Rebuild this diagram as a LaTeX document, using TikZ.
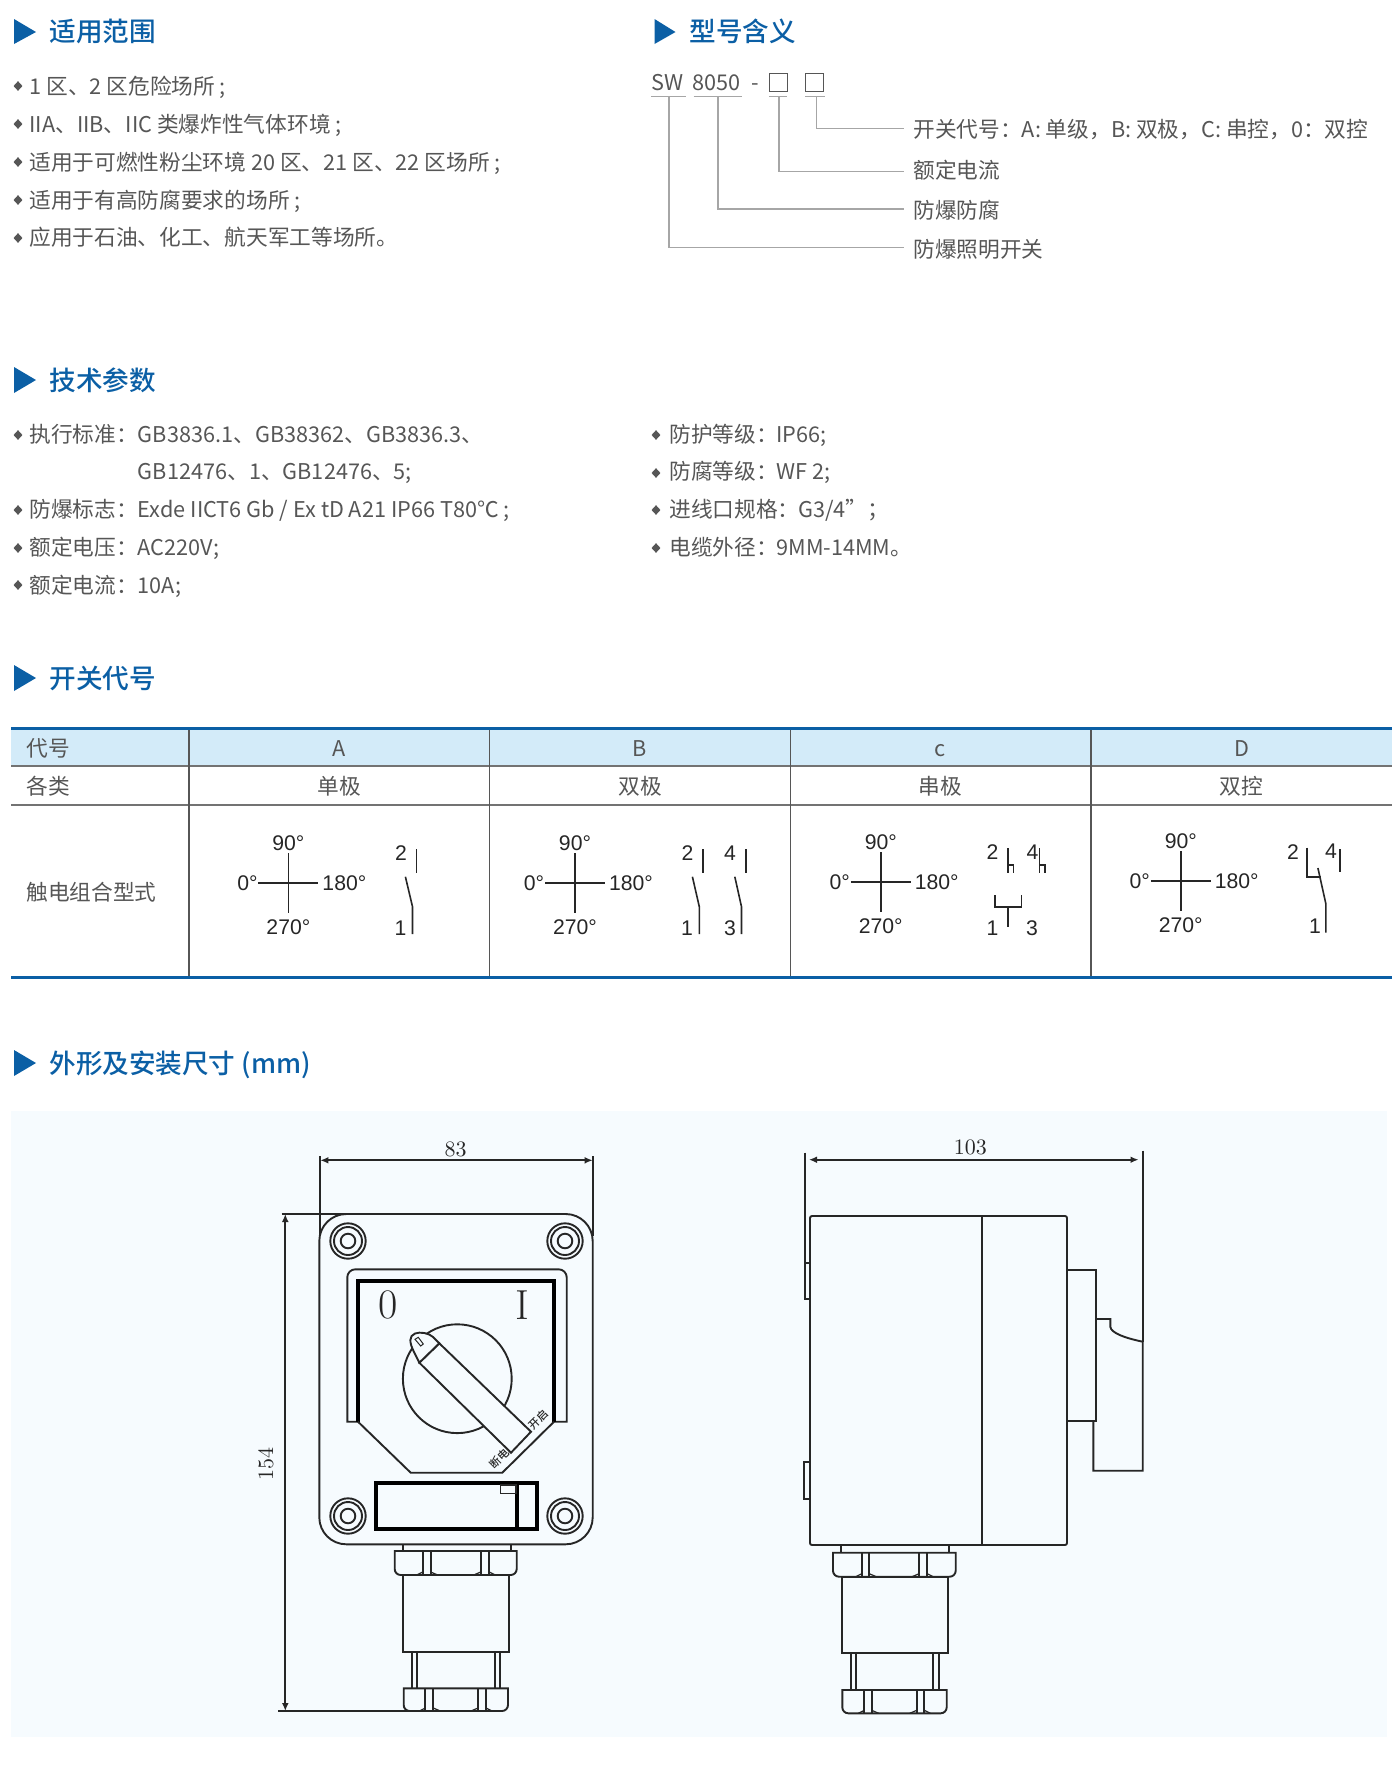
\documentclass[tikz,border=0pt]{standalone}
\usepackage{fontspec}
\usepackage{tikz}
\setmainfont{Noto Sans CJK SC}[BoldFont={Noto Sans CJK SC Medium}]
\newfontfamily\contactfont{Liberation Sans}
\newfontfamily\sizefont{Latin Modern Roman}
\usetikzlibrary{arrows.meta}
\usetikzlibrary{positioning}
\usetikzlibrary{shapes.geometric}
\definecolor{headblue}{HTML}{0B5FA5}
\definecolor{bodygray}{HTML}{565656}
\definecolor{bandblue}{HTML}{D3EBF9}
\definecolor{panelblue}{HTML}{F6FBFE}
\definecolor{partblack}{HTML}{262626}
\tikzset{headtext/.style = {anchor=west, inner sep=0pt, text=headblue, text height=11.3pt, text depth=1.3pt,
                            font=\fontsize{13.3pt}{15pt}\selectfont\bfseries}}
\tikzset{headmark/.style = {fill=headblue, draw=none}}
\tikzset{bodytext/.style = {anchor=west, inner sep=0pt, text=bodygray, text height=9.2pt, text depth=1.1pt,
                            font=\fontsize{10.85pt}{13pt}\selectfont}}
\tikzset{celltext/.style = {inner sep=0pt, text=bodygray, text height=9.2pt, text depth=1.1pt,
                            font=\fontsize{10.85pt}{13pt}\selectfont}}
\tikzset{boxmark/.style = {draw=bodygray, line width=0.45pt, inner sep=0pt, minimum width=9pt, minimum height=9pt}}
\tikzset{bulletmark/.style = {shape=diamond, fill=bodygray, inner sep=0pt,
                              minimum width=4.6pt, minimum height=5pt}}
\tikzset{leader/.style = {draw=gray!70, line width=0.7pt}}
\tikzset{contacttext/.style = {inner sep=0pt, text=partblack,
                               font=\fontsize{10.6pt}{13pt}\selectfont\contactfont}}
\tikzset{contactline/.style = {draw=partblack, line width=0.8pt}}
\tikzset{partline/.style = {draw=partblack, line width=0.95pt}}
\tikzset{heavyline/.style = {draw=black, line width=1.8pt}}
\tikzset{dimline/.style = {draw=partblack, line width=0.9pt,
                           {Latex[length=4pt,width=3.4pt]}-{Latex[length=4pt,width=3.4pt]}}}
\tikzset{sizetext/.style = {inner sep=0pt, text=partblack,
                            font=\fontsize{11pt}{13pt}\selectfont\sizefont}}
\tikzset{bigmark/.style = {inner sep=0pt, text=partblack,
                           font=\fontsize{21pt}{23pt}\selectfont\sizefont}}
\tikzset{platemark/.style = {inner sep=0pt, rotate=45, text=partblack,
                             font=\fontsize{5.5pt}{6pt}\selectfont\bfseries}}
\tikzset{crossmark/.pic = {
    \draw [contactline] (0, -30) -- (0, 30);
    \draw [contactline] (-30, 0) -- (30, 0);
    \node [contacttext] (-top) at (0, -40) {90°};
    \node [contacttext] (-left) at (-41, 0) {0°};
    \node [contacttext] (-right) at (56, 0) {180°};
    \node [contacttext] (-bottom) at (0, 44) {270°};
}}
\tikzset{screwmark/.pic = {
    \draw [partline] (0, 0) circle [radius=17.7];
    \draw [partline] (0, 0) circle [radius=14];
    \draw [partline] (0, 0) circle [radius=7.3];
}}
\newcommand{\glandnut}[8]{
    \draw [partline] (#1, #3) [rounded corners=3pt] -- (#1, #4) -- (#2, #4)
        [sharp corners] -- (#2, #3) -- cycle;
    \draw [partline] (#5, #3) -- (#5, #4) (#6, #3) -- (#6, #4);
    \draw [partline] (#7, #3) -- (#7, #4) (#8, #3) -- (#8, #4);
    \draw [partline, line width=0.6pt] (#5, #4-3) -- (#5-6, #4)
        (#6, #4-3) -- (#6+7, #4) (#7, #4-3) -- (#7-7, #4) (#8, #4-3) -- (#8+6, #4);
}
\begin{document}
\begin{tikzpicture}[x=0.5pt, y=-0.5pt]
  \useasboundingbox (0, 0) rectangle (1400, 1779);

  \fill [headmark] (14, 19) -- (36, 32) -- (14, 44) -- cycle;
  \node [headtext] (scopehead) at (49, 31.5) {适用范围};
  \node [bulletmark] (scopedota) at (18, 86) {};
  \node [bodytext] (scopea) at (29, 86) {1 区、2 区危险场所 ;};
  \node [bulletmark] (scopedotb) at (18, 124) {};
  \node [bodytext] (scopeb) at (29, 124) {IIA、IIB、IIC 类爆炸性气体环境 ;};
  \node [bulletmark] (scopedotc) at (18, 162) {};
  \node [bodytext] (scopec) at (29, 162) {适用于可燃性粉尘环境 20 区、21 区、22 区场所 ;};
  \node [bulletmark] (scopedotd) at (18, 200) {};
  \node [bodytext] (scoped) at (29, 200) {适用于有高防腐要求的场所 ;};
  \node [bulletmark] (scopedote) at (18, 238) {};
  \node [bodytext] (scopee) at (29, 237.5) {应用于石油、化工、航天军工等场所。};

  \fill [headmark] (654.5, 19) -- (675.5, 32) -- (654.5, 44) -- cycle;
  \node [headtext] (modelhead) at (689, 31.5) {型号含义};
  \node [bodytext] (modelsw) at (651, 82) {SW};
  \node [bodytext] (modelnum) at (692, 82) {8050};
  \node [bodytext] (modeldash) at (751, 82) {-};
  \node [boxmark] (modelcur) at (778, 82) {};
  \node [boxmark] (modelcode) at (814.5, 82) {};
  \draw [leader] (651, 96.3) -- (686, 96.3);
  \draw [leader] (693.5, 96.3) -- (742, 96.3);
  \draw [leader] (769, 96.3) -- (787, 96.3);
  \draw [leader] (805, 96.3) -- (825, 96.3);
  \coordinate (swbar) at (669, 96.3);
  \coordinate (numbar) at (718, 96.3);
  \coordinate (curbar) at (779, 96.3);
  \coordinate (codebar) at (816.4, 96.3);
  \coordinate (swend) at (904, 247.7);
  \coordinate (numend) at (904, 209);
  \coordinate (curend) at (904, 171.3);
  \coordinate (codeend) at (904, 128.7);
  \draw [leader] (swbar) |- (swend);
  \draw [leader] (numbar) |- (numend);
  \draw [leader] (curbar) |- (curend);
  \draw [leader] (codebar) |- (codeend);
  \node [bodytext] (codelabel) at (913, 129) {开关代号：A: 单级，B: 双极，C: 串控，0：双控};
  \node [bodytext] (curlabel) at (913, 170) {额定电流};
  \node [bodytext] (numlabel) at (913, 210) {防爆防腐};
  \node [bodytext] (swlabel) at (913, 249.5) {防爆照明开关};

  \fill [headmark] (14, 367) -- (36, 380) -- (14, 393) -- cycle;
  \node [headtext] (paramhead) at (49, 380) {技术参数};
  \node [bulletmark] (paramdota) at (18, 435) {};
  \node [bodytext] (parama) at (29, 434) {执行标准：};
  \node [bodytext] (paramavalue) at (137.5, 434) {GB3836.1、GB38362、GB3836.3、};
  \node [bodytext] (parambvalue) at (137.5, 471.5) {GB12476、1、GB12476、5;};
  \node [bulletmark] (paramdotc) at (18, 510) {};
  \node [bodytext] (paramc) at (29, 509.5) {防爆标志：};
  \node [bodytext] (paramcvalue) at (137.5, 509.5) {Exde IICT6 Gb / Ex tD A21 IP66 T80℃ ;};
  \node [bulletmark] (paramdotd) at (18, 548) {};
  \node [bodytext] (paramd) at (29, 547) {额定电压：};
  \node [bodytext] (paramdvalue) at (137.5, 547) {AC220V;};
  \node [bulletmark] (paramdote) at (18, 585) {};
  \node [bodytext] (parame) at (29, 585) {额定电流：};
  \node [bodytext] (paramevalue) at (137.5, 585) {10A;};
  \node [bulletmark] (paramdotf) at (656, 435) {};
  \node [bodytext] (paramf) at (669, 434) {防护等级：};
  \node [bodytext] (paramfvalue) at (776, 434) {IP66;};
  \node [bulletmark] (paramdotg) at (656, 473) {};
  \node [bodytext] (paramg) at (669, 471.5) {防腐等级：};
  \node [bodytext] (paramgvalue) at (776, 471.5) {WF 2;};
  \node [bulletmark] (paramdoth) at (656, 510) {};
  \node [bodytext] (paramh) at (669, 509.5) {进线口规格：};
  \node [bodytext] (paramhvalue) at (798, 509.5) {G3/4”；};
  \node [bulletmark] (paramdoti) at (656, 548) {};
  \node [bodytext] (parami) at (669, 547) {电缆外径：};
  \node [bodytext] (paramivalue) at (776, 547) {9MM-14MM。};

  \fill [headmark] (14, 665) -- (36, 678) -- (14, 691) -- cycle;
  \node [headtext] (tablehead) at (49, 678) {开关代号};

  \fill [bandblue] (11, 729) rectangle (1392, 766);
  \draw [draw=gray!90!black, line width=1pt] (11, 766) -- (1392, 766);
  \draw [draw=gray!90!black, line width=1pt] (11, 804.7) -- (1392, 804.7);
  \draw [draw=bodygray, line width=0.8pt] (189, 729) -- (189, 978);
  \draw [draw=bodygray, line width=0.8pt] (489.3, 729) -- (489.3, 978);
  \draw [draw=bodygray, line width=0.8pt] (790.6, 729) -- (790.6, 978);
  \draw [draw=bodygray, line width=0.8pt] (1091, 729) -- (1091, 978);
  \draw [draw=headblue, line width=1.5pt] (11, 728.7) -- (1392, 728.7);
  \draw [draw=headblue, line width=1.5pt] (11, 977.7) -- (1392, 977.7);
  \node [bodytext] (rowcode) at (26, 748) {代号};
  \node [bodytext] (rowtype) at (26, 786) {各类};
  \node [bodytext] (rowform) at (26, 892) {触电组合型式};
  \node [celltext] (cola) at (339, 748) {A};
  \node [celltext] (colb) at (640, 748) {B};
  \node [celltext] (colc) at (940, 748) {c};
  \node [celltext] (cold) at (1241.5, 748) {D};
  \node [celltext] (typea) at (339, 786) {单极};
  \node [celltext] (typeb) at (640, 786) {双极};
  \node [celltext] (typec) at (940, 786) {串极};
  \node [celltext] (typed) at (1241.5, 786) {双控};

  \pic (crossa) at (288.4, 883) {crossmark};
  \node [contacttext] (aupper) at (401, 852.7) {2};
  \node [contacttext] (alower) at (400.4, 928) {1};
  \draw [contactline] (416.5, 849) -- (416.5, 873);
  \draw [contactline] (405.4, 876.7) -- (412.5, 906.7) -- (412.5, 934);

  \pic (crossb) at (575, 883) {crossmark};
  \node [contacttext] (bupper) at (687.5, 852.7) {2};
  \node [contacttext] (blower) at (687, 928) {1};
  \draw [contactline] (703, 849) -- (703, 873);
  \draw [contactline] (692.4, 876.7) -- (699.3, 906.7) -- (699.3, 934);
  \node [contacttext] (bupperr) at (730, 852.7) {4};
  \node [contacttext] (blowerr) at (730, 928) {3};
  \draw [contactline] (746, 849) -- (746, 873);
  \draw [contactline] (734.8, 876.7) -- (741.5, 906.7) -- (741.5, 934);

  \pic (crossc) at (880.8, 882) {crossmark};
  \node [contacttext] (cupper) at (992.4, 851.7) {2};
  \node [contacttext] (cupperr) at (1032.6, 851.7) {4};
  \node [contacttext] (clower) at (992.4, 928) {1};
  \node [contacttext] (clowerr) at (1032, 928) {3};
  \draw [contactline] (1008, 848) -- (1008, 872.7);
  \draw [contactline] (1008, 865) -- (1013.4, 865) -- (1013.4, 872.7);
  \draw [contactline] (1039.3, 848) -- (1039.3, 872.7);
  \draw [contactline] (1039.3, 865) -- (1045, 865) -- (1045, 872.7);
  \draw [contactline] (995, 895) -- (995, 907) -- (1021.4, 907) -- (1021.4, 895);
  \draw [contactline] (1008, 907) -- (1008, 927);

  \pic (crossd) at (1180.8, 881) {crossmark};
  \node [contacttext] (dupper) at (1292.9, 851.7) {2};
  \node [contacttext] (dupperr) at (1331, 850.7) {4};
  \node [contacttext] (dlower) at (1315, 926) {1};
  \draw [contactline] (1339.7, 849) -- (1339.7, 871.7);
  \draw [contactline] (1307, 847.7) -- (1307, 876.7) -- (1321.4, 876.7);
  \draw [contactline] (1317.9, 868) -- (1325.9, 904) -- (1325.9, 932.7);

  \fill [headmark] (14, 1050) -- (36, 1063) -- (14, 1076) -- cycle;
  \node [headtext] (sizehead) at (49, 1063.5) {外形及安装尺寸 (mm)};

  \fill [panelblue] (11, 1111) rectangle (1387, 1737);

  \coordinate (widthl) at (320.3, 1160.3);
  \coordinate (widthr) at (592.7, 1160.3);
  \coordinate (heightt) at (285.3, 1214);
  \coordinate (heightb) at (285.3, 1711);
  \draw [partline] (320.3, 1156) -- (320.3, 1236);
  \draw [partline] (592.7, 1156) -- (592.7, 1236);
  \draw [dimline] (widthl) -- (widthr);
  \node [sizetext] (widthlabel) at (455.7, 1149) {83};
  \draw [partline] (281.7, 1214) -- (350, 1214);
  \draw [partline] (278.3, 1711) -- (410, 1711);
  \draw [dimline] (heightt) -- (heightb);
  \node [sizetext, rotate=90] (heightlabel) at (266, 1464) {154};

  \draw [partline, rounded corners=13.5pt] (319.3, 1214) rectangle (592.7, 1544.3);
  \pic (screwa) at (348, 1241) {screwmark};
  \pic (screwb) at (565, 1241) {screwmark};
  \pic (screwc) at (348, 1516) {screwmark};
  \pic (screwd) at (565, 1516) {screwmark};

  \draw [partline] (358, 1421.7) -- (347.3, 1421.7) [rounded corners=4pt] -- (347.3, 1269.3)
      -- (566.7, 1269.3) [sharp corners] -- (566.7, 1421.7) -- (554, 1421.7);
  \draw [heavyline] (358, 1421.7) -- (358, 1281) -- (554, 1281) -- (554, 1421.7);
  \draw [partline] (358, 1421.7) -- (410.7, 1472.7) -- (502.3, 1472.7) -- (554, 1421.7);
  \node [bigmark] (zeromark) at (388.3, 1305) {0};
  \node [bigmark] (onemark) at (522.3, 1305) {I};

  \draw [partline] (457.3, 1378.7) circle [radius=54.4];
  \draw [partline, fill=panelblue] (439.3, 1343.3) -- (531, 1431.7) -- (511, 1452.7)
      -- (419.3, 1362.7) -- cycle;
  \draw [partline, fill=panelblue] (419.3, 1362.7) -- (414, 1352) .. controls (409, 1342) and (409, 1336) .. (415, 1333.5)
      .. controls (420, 1331.5) and (429, 1333) .. (433, 1337) -- (439.3, 1343.3) -- cycle;
  \draw [partline, line width=0.5pt] (415, 1339.3) -- (418.3, 1337.3) -- (423.3, 1344) -- (420.7, 1346) -- cycle;
  \node [platemark] (openmark) at (538.3, 1419.3) {开启};
  \node [platemark] (offmark) at (499.3, 1458.3) {断电};

  \draw [heavyline] (375.7, 1482.7) rectangle (536.7, 1529);
  \draw [heavyline] (516.7, 1482.7) -- (516.7, 1529);
  \draw [partline, line width=0.7pt] (500.7, 1485) rectangle (516, 1493.3);

  \draw [partline] (402.7, 1544.3) -- (402.7, 1551) (510.7, 1544.3) -- (510.7, 1551);
  \glandnut{394.7}{516.7}{1551}{1575}{422.7}{430.7}{480.7}{489.3}
  \draw [partline] (403.3, 1575) rectangle (509.3, 1652);
  \draw [partline] (412.3, 1652) -- (412.3, 1688.3) (416.7, 1652) -- (416.7, 1688.3);
  \draw [partline] (495, 1652) -- (495, 1688.3) (500, 1652) -- (500, 1688.3);
  \glandnut{403.7}{508}{1688.3}{1711}{425.3}{433.3}{478}{486}

  \coordinate (depthl) at (809, 1159.7);
  \coordinate (depthr) at (1138.5, 1159.7);
  \draw [partline] (805, 1152.7) -- (805, 1262.7);
  \draw [partline] (1142.7, 1150.7) -- (1142.7, 1341.7);
  \draw [dimline] (depthl) -- (depthr);
  \node [sizetext] (depthlabel) at (970.3, 1147.7) {103};

  \draw [partline, rounded corners=1pt] (810, 1216) rectangle (1067, 1545);
  \draw [partline] (981.7, 1216) -- (981.7, 1545);
  \draw [partline] (810, 1262.7) -- (805, 1262.7) -- (805, 1299) -- (810, 1299);
  \draw [partline] (810, 1462.3) -- (804.3, 1462.3) -- (804.3, 1499) -- (810, 1499);
  \draw [partline] (1067, 1270.3) -- (1096, 1270.3) -- (1096, 1421) -- (1067, 1421);
  \draw [partline] (1096, 1319) -- (1110.3, 1319) -- (1110.3, 1326.7)
      .. controls (1111, 1333) and (1125, 1338) .. (1142.7, 1341.7)
      -- (1142.7, 1470.7) -- (1093.3, 1470.7) -- (1093.3, 1421);

  \draw [partline] (841.3, 1545) -- (841.3, 1552.7) (949, 1545) -- (949, 1552.7);
  \glandnut{833}{955.7}{1552.7}{1576.7}{861.7}{869.3}{919}{927.3}
  \draw [partline] (841.7, 1576.7) rectangle (948.3, 1653.3);
  \draw [partline] (851, 1653.3) -- (851, 1690) (855.7, 1653.3) -- (855.7, 1690);
  \draw [partline] (933.3, 1653.3) -- (933.3, 1690) (939, 1653.3) -- (939, 1690);
  \glandnut{842.3}{946.7}{1690}{1713.3}{864.3}{871.7}{916.7}{924.3}
\end{tikzpicture}
\end{document}
